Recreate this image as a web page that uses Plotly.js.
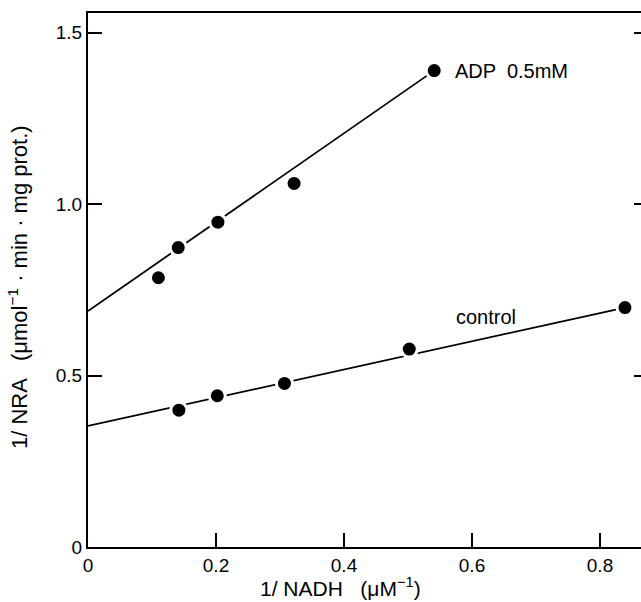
<!DOCTYPE html>
<html>
<head>
<meta charset="utf-8">
<script src="https://cdn.plot.ly/plotly-3.0.1.min.js"></script>
<style>
html, body { margin: 0; padding: 0; overflow: hidden; background: #fff; }
#chart { width: 660px; height: 602px; }
</style>
</head>
<body>
<div id="chart"></div>
<script>
// Data (Lineweaver-Burk plot)
const adpX = [0.110, 0.141, 0.203, 0.322, 0.541];
const adpY = [0.785, 0.873, 0.947, 1.060, 1.389];
const controlX = [0.142, 0.202, 0.307, 0.502, 0.839];
const controlY = [0.399, 0.441, 0.477, 0.577, 0.698];
// Fitted lines (intercept at x = 0, end at last point)
const adpFitX = [0, 0.541];
const adpFitY = [0.688, 1.389];
const controlFitX = [0, 0.839];
const controlFitY = [0.353, 0.698];
// Tick labels
const xTickVals = [0, 0.2, 0.4, 0.6, 0.8];
const xTickText = ['0', '0.2', '0.4', '0.6', '0.8'];
const yTickVals = [0, 0.5, 1.0, 1.5];
const yTickText = ['0', '0.5', '1.0', '1.5'];

const FONT = 'Liberation Sans, Arial, sans-serif';

const lineStyle = {color: '#000', width: 1.8};
const markerStyle = {color: '#000', size: 16, line: {color: '#fff', width: 3}};

const traces = [
  {x: adpFitX, y: adpFitY, mode: 'lines', line: lineStyle, hoverinfo: 'skip', showlegend: false},
  {x: controlFitX, y: controlFitY, mode: 'lines', line: lineStyle, hoverinfo: 'skip', showlegend: false},
  {x: adpX, y: adpY, mode: 'markers', marker: markerStyle, name: 'ADP 0.5mM', showlegend: false},
  {x: controlX, y: controlY, mode: 'markers', marker: markerStyle, name: 'control', showlegend: false}
];

const layout = {
  width: 660,
  height: 602,
  margin: {l: 88, r: 12, t: 13, b: 55},
  paper_bgcolor: '#fff',
  plot_bgcolor: '#fff',
  font: {family: FONT, size: 19, color: '#000'},
  showlegend: false,
  xaxis: {
    range: [0, 0.875],
    tickvals: xTickVals,
    ticktext: xTickText,
    ticks: 'inside',
    ticklen: 14,
    tickwidth: 2,
    tickcolor: '#000',
    showline: true,
    linecolor: '#000',
    linewidth: 2,
    mirror: true,
    showgrid: false,
    zeroline: false,
    tickfont: {family: FONT, size: 19}
  },
  yaxis: {
    range: [0, 1.557],
    tickvals: yTickVals,
    ticktext: yTickText,
    ticks: 'inside',
    ticklen: 14,
    tickwidth: 2,
    tickcolor: '#000',
    showline: true,
    linecolor: '#000',
    linewidth: 2,
    mirror: 'ticks',
    showgrid: false,
    zeroline: false,
    tickfont: {family: FONT, size: 19}
  },
  annotations: [
    {x: 0.570, y: 1.389, xref: 'x', yref: 'y', text: 'ADP  0.5mM', showarrow: false,
     xanchor: 'left', yanchor: 'middle', font: {family: FONT, size: 20}},
    {x: 0.622, y: 0.671, xref: 'x', yref: 'y', text: 'control', showarrow: false,
     xanchor: 'center', yanchor: 'middle', font: {family: FONT, size: 20}},
    // x-axis title
    {x: (340 - 88) / 560, y: 0, xref: 'paper', yref: 'paper', yshift: -40,
     text: '1/ NADH   (μM<sup>−1</sup>)', showarrow: false,
     xanchor: 'center', yanchor: 'middle', font: {family: FONT, size: 21}},
    // y-axis title
    {x: 0, y: (547 - 287) / 534, xref: 'paper', yref: 'paper', xshift: -70,
     text: '1/ NRA   (μmol<sup>−1</sup> · min · mg prot.)', showarrow: false, textangle: -90,
     xanchor: 'center', yanchor: 'middle', font: {family: FONT, size: 22}}
  ]
};

Plotly.newPlot('chart', traces, layout, {displayModeBar: false, staticPlot: true});
</script>
</body>
</html>
